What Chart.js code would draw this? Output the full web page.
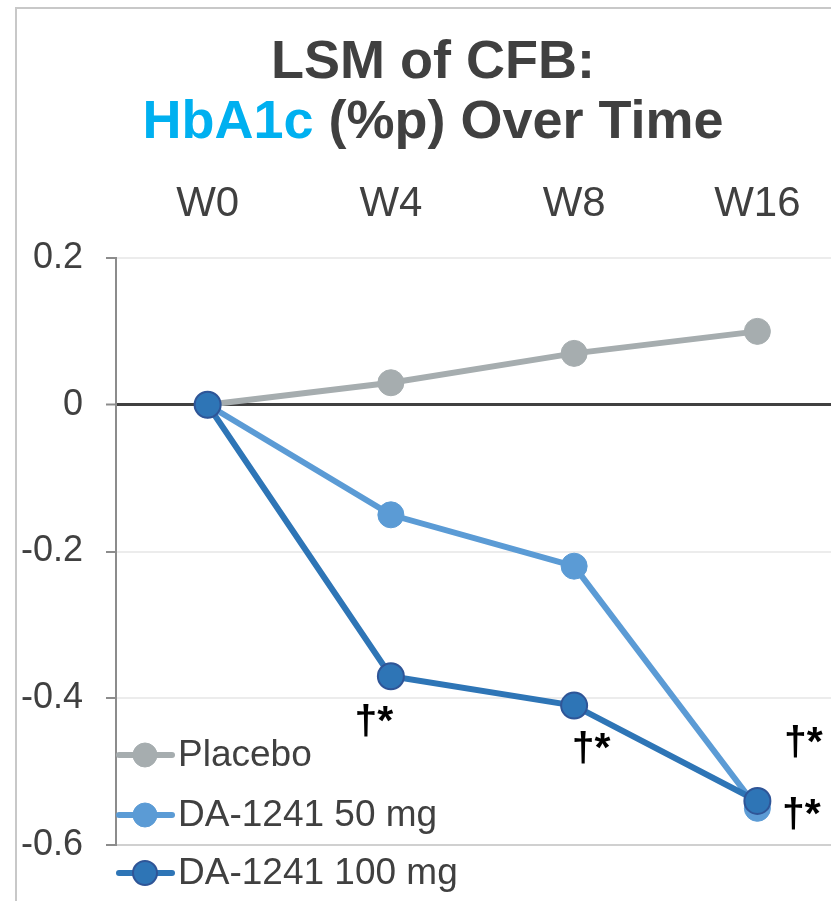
<!DOCTYPE html>
<html>
<head>
<meta charset="utf-8">
<script src="https://cdn.jsdelivr.net/npm/chart.js@4.4.1/dist/chart.umd.min.js"></script>
<style>
  html, body { margin: 0; padding: 0; background: #ffffff; }
  #wrap { position: relative; width: 831px; height: 901px; overflow: hidden; background: #ffffff; }
  canvas { display: block; }
</style>
</head>
<body>
<div id="wrap"><canvas id="c" width="880" height="901"></canvas></div>
<script>
// ---- data ----
const categories = ['W0', 'W4', 'W8', 'W16'];
const placebo   = [0, 0.03, 0.07, 0.10];
const da50      = [0, -0.15, -0.22, -0.55];
const da100     = [0, -0.37, -0.41, -0.54];
const seriesNames = ['Placebo', 'DA-1241 50 mg', 'DA-1241 100 mg'];
const yTicks = [0.2, 0, -0.2, -0.4, -0.6];
const titleLine1 = 'LSM of CFB:';
const titleLine2a = 'HbA1c';
const titleLine2b = ' (%p) Over Time';
// significance marks: [category index, series key]
const marks = [
  { idx: 1, series: 'da100', text: '†*', dx: -17, dy: 46 },
  { idx: 2, series: 'da100', text: '†*', dx: 17, dy: 44 },
  { idx: 3, series: 'da50',  text: '†*', dx: 46, dy: -65 },
  { idx: 3, series: 'da100', text: '†*', dx: 44, dy: 15 }
];

const FONT = "'Liberation Sans', Arial, sans-serif";
const TEXT = '#404040';
const colors = {
  placebo: '#A6ADAF',
  da50: '#5B9BD5',
  da100: '#2E75B6',
  da100Border: '#2F5597'
};

const framePlugin = {
  id: 'frame',
  beforeDraw(chart) {
    const ctx = chart.ctx;
    ctx.save();
    ctx.fillStyle = '#ffffff';
    ctx.fillRect(0, 0, chart.width, chart.height);
    ctx.strokeStyle = '#c8c8c8';
    ctx.lineWidth = 2;
    ctx.beginPath();
    ctx.moveTo(16, 901);
    ctx.lineTo(16, 8);
    ctx.lineTo(chart.width, 8);
    ctx.stroke();
    ctx.restore();
  }
};

const titlePlugin = {
  id: 'twoTitle',
  afterDraw(chart) {
    const ctx = chart.ctx;
    const cx = 433;
    ctx.save();
    ctx.font = 'bold 54px ' + FONT;
    ctx.textBaseline = 'alphabetic';
    ctx.fillStyle = TEXT;
    ctx.textAlign = 'center';
    ctx.fillText(titleLine1, cx, 78);
    const wa = ctx.measureText(titleLine2a).width;
    const wb = ctx.measureText(titleLine2b).width;
    const x0 = cx - (wa + wb) / 2;
    ctx.textAlign = 'left';
    ctx.fillStyle = '#00B0F0';
    ctx.fillText(titleLine2a, x0, 138);
    ctx.fillStyle = TEXT;
    ctx.fillText(titleLine2b, x0 + wa, 138);
    ctx.restore();
  }
};

const legendPlugin = {
  id: 'customLegend',
  afterDatasetsDraw(chart) {
    const ctx = chart.ctx;
    const rows = [755, 815, 873];
    ctx.save();
    chart.data.datasets.forEach((ds, i) => {
      const y = rows[i];
      ctx.strokeStyle = ds.borderColor;
      ctx.lineWidth = 6;
      ctx.lineCap = 'round';
      ctx.beginPath();
      ctx.moveTo(119, y);
      ctx.lineTo(172, y);
      ctx.stroke();
      ctx.beginPath();
      ctx.arc(145, y, 12, 0, Math.PI * 2);
      ctx.fillStyle = ds.pointBackgroundColor;
      ctx.fill();
      ctx.lineWidth = ds.pointBorderWidth;
      ctx.strokeStyle = ds.pointBorderColor;
      ctx.stroke();
      ctx.fillStyle = TEXT;
      ctx.font = '37px ' + FONT;
      ctx.textAlign = 'left';
      ctx.textBaseline = 'middle';
      ctx.fillText(ds.label, 178, y + 1);
    });
    ctx.restore();
  }
};

const marksPlugin = {
  id: 'sigMarks',
  afterDatasetsDraw(chart) {
    const ctx = chart.ctx;
    const xs = chart.scales.x, ys = chart.scales.y;
    const src = { da50: da50, da100: da100 };
    ctx.save();
    ctx.font = 'bold 41px ' + FONT;
    ctx.fillStyle = '#000000';
    ctx.textAlign = 'center';
    ctx.textBaseline = 'middle';
    marks.forEach(m => {
      const px = xs.getPixelForValue(m.idx);
      const py = ys.getPixelForValue(src[m.series][m.idx]);
      ctx.fillText(m.text, px + m.dx, py + m.dy);
    });
    ctx.restore();
  }
};

new Chart(document.getElementById('c'), {
  type: 'line',
  data: {
    labels: categories,
    datasets: [
      {
        label: seriesNames[0], data: placebo, order: 2,
        borderColor: colors.placebo, backgroundColor: colors.placebo,
        pointBackgroundColor: colors.placebo, pointBorderColor: colors.placebo,
        pointBorderWidth: 1, borderWidth: 6, pointRadius: 13, tension: 0
      },
      {
        label: seriesNames[1], data: da50, order: 1,
        borderColor: colors.da50, backgroundColor: colors.da50,
        pointBackgroundColor: colors.da50, pointBorderColor: colors.da50,
        pointBorderWidth: 1, borderWidth: 6, pointRadius: 13, tension: 0
      },
      {
        label: seriesNames[2], data: da100, order: 0,
        borderColor: colors.da100, backgroundColor: colors.da100,
        pointBackgroundColor: colors.da100, pointBorderColor: colors.da100Border,
        pointBorderWidth: 2, borderWidth: 6, pointRadius: 13, tension: 0
      }
    ]
  },
  options: {
    responsive: false,
    animation: false,
    devicePixelRatio: 1,
    layout: { padding: { left: 0, right: 880 - 849, top: 0, bottom: 901 - 845 } },
    plugins: { legend: { display: false }, tooltip: { enabled: false }, title: { display: false } },
    scales: {
      x: {
        type: 'category',
        position: 'top',
        offset: true,
        grid: { display: false, drawTicks: false },
        border: { display: false },
        ticks: { font: { family: FONT, size: 42 }, color: TEXT, padding: 28, maxRotation: 0 },
        afterFit(s) { s.height = 258; }
      },
      y: {
        type: 'linear',
        min: -0.6, max: 0.2,
        afterBuildTicks(s) { s.ticks = yTicks.map(v => ({ value: v })); },
        grid: {
          color: c => c.tick && c.tick.value === 0 ? '#404040' : (c.tick && c.tick.value === -0.6 ? '#d0d0d0' : '#ececec'),
          lineWidth: c => c.tick && c.tick.value === 0 ? 3 : 2,
          tickColor: '#8c8c8c', tickWidth: 2, tickLength: 10
        },
        border: { display: true, color: '#8c8c8c', width: 2 },
        ticks: {
          font: { family: FONT, size: 36 }, color: TEXT, padding: 23,
          callback: v => (Math.round(v * 10) / 10).toString()
        },
        afterFit(s) { s.width = 116; }
      }
    }
  },
  plugins: [framePlugin, titlePlugin, legendPlugin, marksPlugin]
});
</script>
</body>
</html>
